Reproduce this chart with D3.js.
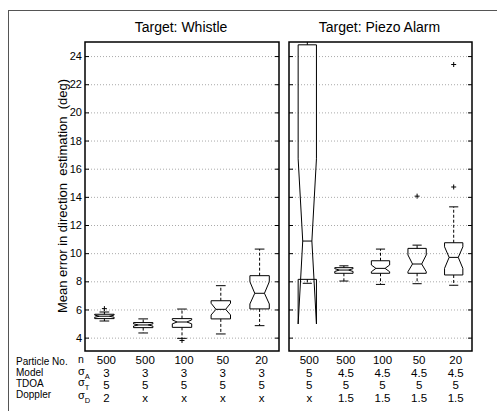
<!DOCTYPE html>
<html>
<head>
<meta charset="utf-8">
<script src="https://cdn.jsdelivr.net/npm/d3@7"></script>
<style>
  body { margin: 0; background: #fff; }
  svg { display: block; font-family: "Liberation Sans", Arial, sans-serif; }
</style>
</head>
<body>
<script>
// panel titles
const targets = ["Target: Whistle", "Target: Piezo Alarm"];

// whistle boxes (deg)
const whistleLowWhisker = [5.18, 4.33, 3.95, 4.26, 4.85];
const whistleQ1 = [5.35, 4.71, 4.73, 5.33, 6.04];
const whistleNotchLow = [5.45, 4.82, 4.98, 5.61, 6.39];
const whistleMedian = [5.52, 4.9, 5.11, 6.01, 7.15];
const whistleNotchHigh = [5.6, 4.98, 5.26, 6.44, 7.97];
const whistleQ3 = [5.66, 5.07, 5.35, 6.62, 8.4];
const whistleHighWhisker = [5.82, 5.33, 6.03, 7.69, 10.29];
const whistleOutliers = [[6.06], [], [3.8], [], []];

// piezo alarm boxes (deg)
const piezoLowWhisker = [7.86, 8.02, 7.78, 7.83, 7.72];
const piezoQ1 = [8.14, 8.57, 8.57, 8.57, 8.45];
const piezoNotchLow = [4.97, 8.7, 8.68, 8.68, 8.92];
const piezoMedian = [10.86, 8.8, 8.92, 9.23, 9.7];
const piezoNotchHigh = [16.7, 8.9, 9.16, 9.87, 10.45];
const piezoQ3 = [24.8, 8.97, 9.46, 10.34, 10.74];
const piezoHighWhisker = [26, 9.1, 10.29, 10.57, 13.29];
const piezoOutliers = [[], [], [], [14.05], [23.4, 14.7]];

// settings table under the boxes
const rowLabels = ["Particle No.", "Model", "TDOA", "Doppler"];
const rowSymbols = [["n", ""], ["σ", "A"], ["σ", "T"], ["σ", "D"]];
const particleN = ["500", "500", "100", "50", "20", "500", "500", "100", "50", "20"];
const sigmaA = ["3", "3", "3", "3", "3", "5", "4.5", "4.5", "4.5", "4.5"];
const sigmaT = ["5", "5", "5", "5", "5", "5", "5", "5", "5", "5"];
const sigmaD = ["2", "x", "x", "x", "x", "x", "1.5", "1.5", "1.5", "1.5"];

const yTicks = [4, 6, 8, 10, 12, 14, 16, 18, 20, 22, 24];

const width = 497, height = 411;
const plotTop = 42, plotBottom = 351;

const svg = d3.select("body").append("svg")
  .attr("width", width)
  .attr("height", height);

svg.append("rect")
  .attr("x", 8.5).attr("y", 10.5)
  .attr("width", 520).attr("height", 420)
  .attr("fill", "none").attr("stroke", "#555").attr("stroke-width", 1);

const y = d3.scaleLinear().domain([3.05, 25]).range([plotBottom, plotTop]);

const panels = [
  { title: targets[0], x0: 85, x1: 279, lo: whistleLowWhisker, q1: whistleQ1, nl: whistleNotchLow,
    med: whistleMedian, nh: whistleNotchHigh, q3: whistleQ3, hi: whistleHighWhisker, out: whistleOutliers },
  { title: targets[1], x0: 289, x1: 472, lo: piezoLowWhisker, q1: piezoQ1, nl: piezoNotchLow,
    med: piezoMedian, nh: piezoNotchHigh, q3: piezoQ3, hi: piezoHighWhisker, out: piezoOutliers }
];

const centers = [];

panels.forEach((p, pi) => {
  const x = d3.scaleBand().domain(d3.range(5)).range([p.x0, p.x1]);
  const g = svg.append("g");

  svg.append("clipPath").attr("id", "clip" + pi)
    .append("rect").attr("x", p.x0).attr("y", plotTop)
    .attr("width", p.x1 - p.x0).attr("height", plotBottom - plotTop);

  // grid
  g.selectAll(".grid").data(yTicks).enter().append("line")
    .attr("x1", p.x0).attr("x2", p.x1)
    .attr("y1", d => y(d) + 0.5).attr("y2", d => y(d) + 0.5)
    .attr("stroke", "#aaa").attr("stroke-width", 1).attr("stroke-dasharray", "1,2");

  // axes with inward ticks
  const left = g.append("g").attr("transform", `translate(${p.x0},0)`)
    .call(d3.axisLeft(y).tickValues(yTicks).tickSize(-4).tickPadding(3));
  const right = g.append("g").attr("transform", `translate(${p.x1},0)`)
    .call(d3.axisRight(y).tickValues(yTicks).tickSize(-4).tickFormat(""));
  [left, right].forEach(a => {
    a.select(".domain").remove();
    a.selectAll("line").attr("stroke", "#000");
    a.selectAll("text").attr("font-size", 11).attr("fill", "#000")
      .attr("font-family", "Liberation Sans, Arial, sans-serif");
  });
  if (pi === 1) left.selectAll("text").remove();

  const boxes = g.append("g").attr("clip-path", `url(#clip${pi})`);
  const w = x.bandwidth() * 0.5;
  d3.range(5).forEach(i => {
    const cx = x(i) + x.bandwidth() / 2;
    centers.push(cx);
    const l = cx - w / 2, r = cx + w / 2, dn = w / 4;
    const bg = boxes.append("g").attr("fill", "none").attr("stroke", "#000").attr("stroke-width", 1);
    // whiskers
    bg.append("line").attr("x1", cx).attr("x2", cx).attr("y1", y(p.q3[i])).attr("y2", y(p.hi[i]))
      .attr("stroke-dasharray", "3,2");
    bg.append("line").attr("x1", cx).attr("x2", cx).attr("y1", y(p.q1[i])).attr("y2", y(p.lo[i]))
      .attr("stroke-dasharray", "3,2");
    [p.hi[i], p.lo[i]].forEach(v => {
      bg.append("line").attr("x1", cx - w / 4).attr("x2", cx + w / 4)
        .attr("y1", y(v)).attr("y2", y(v));
    });
    // notched box
    const pts = [
      [l, p.q3[i]], [l, p.nh[i]], [l + dn, p.med[i]], [l, p.nl[i]], [l, p.q1[i]],
      [r, p.q1[i]], [r, p.nl[i]], [r - dn, p.med[i]], [r, p.nh[i]], [r, p.q3[i]]
    ];
    bg.append("path")
      .attr("d", d3.line().x(d => d[0]).y(d => y(d[1]))(pts) + "Z")
      .attr("stroke-linejoin", "miter");
    bg.append("line").attr("x1", l + dn).attr("x2", r - dn)
      .attr("y1", y(p.med[i])).attr("y2", y(p.med[i]));
    // outliers
    p.out[i].forEach(v => {
      bg.append("path")
        .attr("d", `M${cx - 2.5},${y(v)}H${cx + 2.5}M${cx},${y(v) - 2.5}V${y(v) + 2.5}`);
    });
  });

  g.append("rect")
    .attr("x", p.x0).attr("y", plotTop)
    .attr("width", p.x1 - p.x0).attr("height", plotBottom - plotTop)
    .attr("fill", "none").attr("stroke", "#000").attr("stroke-width", 1.5);

  svg.append("text")
    .attr("x", (p.x0 + p.x1) / 2 - 1).attr("y", 32)
    .attr("text-anchor", "middle").attr("font-size", 14)
    .text(p.title);
});

svg.append("text")
  .attr("transform", "translate(67,196) rotate(-90)")
  .attr("text-anchor", "middle").attr("font-size", 13)
  .style("white-space", "pre")
  .text("Mean error in direction  estimation  (deg)");

// settings table
const labelY = [365, 376, 387, 398];
const valueY = [364, 376.5, 388.5, 401.5];
const symbolY = [362.5, 374.5, 386, 398.5];
const rows = [particleN, sigmaA, sigmaT, sigmaD];

svg.selectAll(".rowlabel").data(rowLabels).enter().append("text")
  .attr("x", 16).attr("y", (d, i) => labelY[i])
  .attr("font-size", 10).text(d => d);

rowSymbols.forEach((s, i) => {
  const t = svg.append("text").attr("x", 78).attr("y", symbolY[i])
    .attr("font-size", i ? 11 : 10.5);
  t.append("tspan").text(s[0]);
  if (s[1]) t.append("tspan").attr("dy", 4).attr("font-size", 7.5).text(s[1]);
});

rows.forEach((vals, ri) => {
  svg.selectAll(".r" + ri).data(vals).enter().append("text")
    .attr("x", (d, i) => centers[i] + 2)
    .attr("y", valueY[ri])
    .attr("text-anchor", "middle").attr("font-size", 11.5)
    .text(d => d);
});
</script>
</body>
</html>
